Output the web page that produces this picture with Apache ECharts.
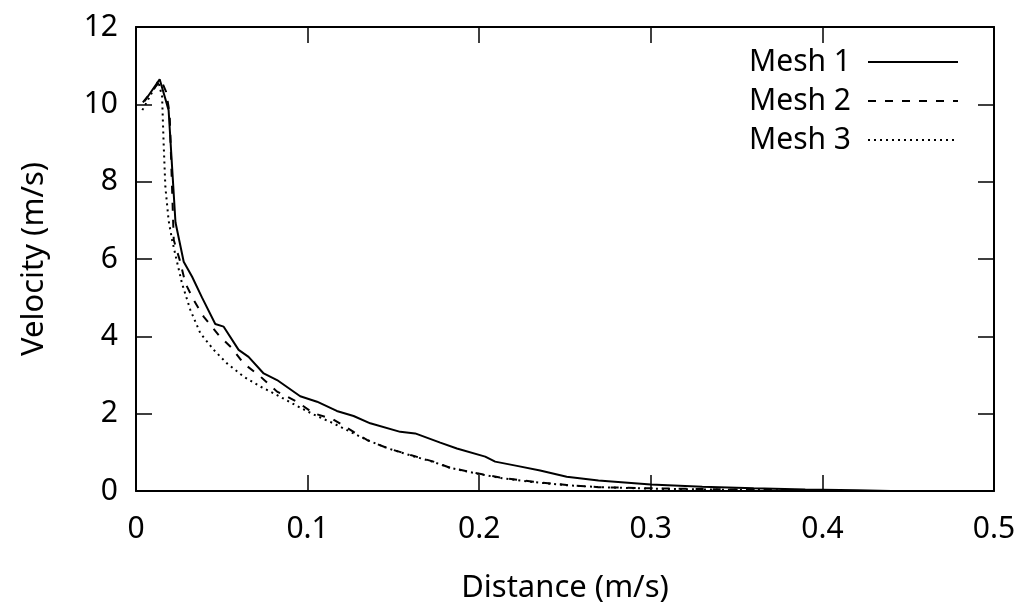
<!DOCTYPE html>
<html>
<head>
<meta charset="utf-8">
<script src="https://cdn.jsdelivr.net/npm/echarts@6/dist/echarts.min.js"></script>
<style>
  html, body { margin: 0; padding: 0; background: #fff; }
  #chartContainer { width: 1032px; height: 612px; }
</style>
</head>
<body>
<div id="chartContainer"></div>
<script>
// Mesh 1 (solid)
const dist1 = [0.005, 0.0138, 0.019, 0.023, 0.0278, 0.0327, 0.0385, 0.0462, 0.0511, 0.0598, 0.0656, 0.0744, 0.0822, 0.0957, 0.1055, 0.117, 0.1268, 0.1365, 0.154, 0.1627, 0.1773, 0.187, 0.2035, 0.2093, 0.222, 0.2355, 0.251, 0.2695, 0.30, 0.33, 0.36, 0.39, 0.42, 0.44];
const vel1 = [10.08, 10.65, 9.85, 6.95, 5.93, 5.54, 5.0, 4.32, 4.25, 3.65, 3.47, 3.04, 2.87, 2.45, 2.31, 2.07, 1.94, 1.75, 1.53, 1.49, 1.25, 1.10, 0.89, 0.76, 0.65, 0.53, 0.37, 0.27, 0.17, 0.11, 0.07, 0.04, 0.02, 0.0];

// Mesh 2 (dashed)
const dist2 = [0.004, 0.0146, 0.0175, 0.0196, 0.022, 0.0255, 0.0288, 0.0336, 0.0394, 0.0482, 0.056, 0.0627, 0.0725, 0.0822, 0.0938, 0.1035, 0.115, 0.1268, 0.1346, 0.147, 0.16, 0.1734, 0.183, 0.1987, 0.212, 0.2316, 0.251, 0.2695, 0.30, 0.33, 0.36, 0.39, 0.42];
const vel2 = [10.05, 10.63, 10.33, 9.77, 6.49, 5.97, 5.37, 4.94, 4.51, 4.03, 3.69, 3.30, 2.96, 2.57, 2.31, 2.01, 1.85, 1.53, 1.32, 1.10, 0.93, 0.76, 0.60, 0.46, 0.35, 0.24, 0.155, 0.10, 0.07, 0.05, 0.03, 0.015, 0.0];

// Mesh 3 (dotted)
const dist3 = [0.0037, 0.013, 0.0152, 0.0161, 0.0171, 0.019, 0.021, 0.023, 0.0268, 0.0317, 0.0375, 0.0453, 0.053, 0.0627, 0.0725, 0.0822, 0.0938, 0.1035, 0.115, 0.1268, 0.1346, 0.147, 0.16, 0.1734, 0.183, 0.1987, 0.212, 0.2316, 0.251, 0.2695, 0.30, 0.33, 0.36, 0.39, 0.42];
const vel3 = [9.85, 10.6, 10.2, 8.99, 7.87, 7.0, 6.5, 6.1, 5.37, 4.68, 4.08, 3.65, 3.30, 2.96, 2.70, 2.48, 2.2, 1.98, 1.75, 1.49, 1.32, 1.10, 0.92, 0.75, 0.60, 0.45, 0.34, 0.23, 0.15, 0.10, 0.06, 0.04, 0.025, 0.012, 0.0];

const seriesNames = ['Mesh 1', 'Mesh 2', 'Mesh 3'];

const FONT = 'Noto Sans';
const zip = (xs, ys) => xs.map((x, i) => [x, ys[i]]);

function makeSeries(name, data, dash) {
    return {
        name: name,
        type: 'line',
        data: data,
        symbol: 'none',
        lineStyle: { color: '#000', width: 2, type: dash },
        itemStyle: { color: '#000' }
    };
}

const chart = echarts.init(document.getElementById('chartContainer'));

// frame: bottom/left axes carry labels, top/right only mirror the inward ticks
const frameLine = { show: true, onZero: false, lineStyle: { color: '#000', width: 2 } };
const inTicks = { show: true, inside: true, length: 16, lineStyle: { color: '#000', width: 1.5 } };

const option = {
    animation: false,
    backgroundColor: '#fff',
    grid: { left: 136, right: 38, top: 27, bottom: 121 },
    legend: {
        orient: 'vertical',
        right: 68,
        top: 41,
        align: 'right',
        itemWidth: 90,
        itemHeight: 14,
        itemGap: 7,
        data: seriesNames,
        itemStyle: { opacity: 0 },
        textStyle: { fontFamily: FONT, fontSize: 30, color: '#000', lineHeight: 32, padding: [0, 12, 0, 0] }
    },
    xAxis: [{
        type: 'value', min: 0, max: 0.5, interval: 0.1, position: 'bottom',
        name: 'Distance (m/s)', nameLocation: 'middle', nameGap: 82,
        nameTextStyle: { fontFamily: FONT, fontSize: 31, color: '#000' },
        axisLine: frameLine, axisTick: inTicks,
        axisLabel: { fontFamily: FONT, fontSize: 30, color: '#000', margin: 23 },
        splitLine: { show: false }
    }, {
        type: 'value', min: 0, max: 0.5, interval: 0.1, position: 'top',
        axisLine: frameLine, axisTick: inTicks,
        axisLabel: { show: false }, splitLine: { show: false }
    }],
    yAxis: [{
        type: 'value', min: 0, max: 12, interval: 2, position: 'left',
        name: 'Velocity (m/s)', nameLocation: 'middle', nameGap: 86,
        nameTextStyle: { fontFamily: FONT, fontSize: 31, color: '#000' },
        axisLine: frameLine, axisTick: inTicks,
        axisLabel: { fontFamily: FONT, fontSize: 30, color: '#000', margin: 18 },
        splitLine: { show: false }
    }, {
        type: 'value', min: 0, max: 12, interval: 2, position: 'right',
        axisLine: frameLine, axisTick: inTicks,
        axisLabel: { show: false }, splitLine: { show: false }
    }],
    series: [
        makeSeries(seriesNames[0], zip(dist1, vel1), 'solid'),
        makeSeries(seriesNames[1], zip(dist2, vel2), [8, 9]),
        makeSeries(seriesNames[2], zip(dist3, vel3), [2, 4])
    ]
};

chart.setOption(option);
</script>
</body>
</html>
